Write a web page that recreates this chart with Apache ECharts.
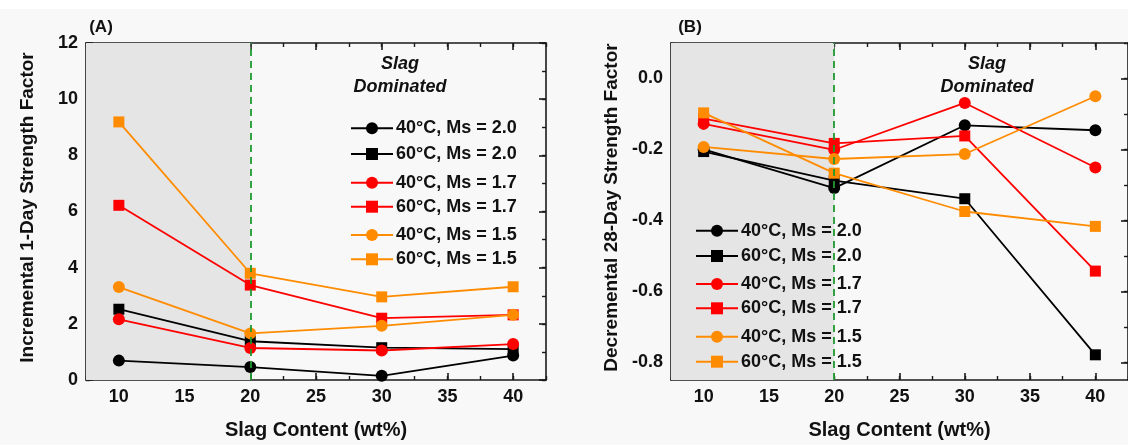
<!DOCTYPE html>
<html>
<head>
<meta charset="utf-8">
<script src="https://cdn.jsdelivr.net/npm/echarts@6/dist/echarts.min.js"></script>
<style>
html,body{margin:0;padding:0;background:#f8f8f8;}
#c{width:1128px;height:445px;}
</style>
</head>
<body>
<div id="c"></div>
<script>
// ---------- data ----------
var slag = [10, 20, 30, 40];
var seriesNames = ['40°C, Ms = 2.0','60°C, Ms = 2.0','40°C, Ms = 1.7','60°C, Ms = 1.7','40°C, Ms = 1.5','60°C, Ms = 1.5'];
var seriesColors = ['#000000','#000000','#ff0000','#ff0000','#ff8c00','#ff8c00'];
var seriesSymbols = ['circle','rect','circle','rect','circle','rect'];

// Panel A: incremental 1-day strength factor
var a_40_20 = [0.69, 0.46, 0.15, 0.87];
var a_60_20 = [2.52, 1.38, 1.15, 1.10];
var a_40_17 = [2.16, 1.14, 1.05, 1.28];
var a_60_17 = [6.22, 3.38, 2.20, 2.32];
var a_40_15 = [3.31, 1.66, 1.93, 2.32];
var a_60_15 = [9.19, 3.80, 2.96, 3.32];

// Panel B: decremental 28-day strength factor
var b_40_20 = [-0.200, -0.309, -0.132, -0.146];
var b_60_20 = [-0.206, -0.288, -0.339, -0.779];
var b_40_17 = [-0.128, -0.201, -0.069, -0.251];
var b_60_17 = [-0.113, -0.183, -0.162, -0.543];
var b_40_15 = [-0.193, -0.227, -0.213, -0.050];
var b_60_15 = [-0.097, -0.267, -0.375, -0.417];

var xMajor = [10, 15, 20, 25, 30, 35, 40];
var xMinor = [7.5, 10, 12.5, 15, 17.5, 20, 22.5, 25, 27.5, 30, 32.5, 35, 37.5, 40, 42.5];
var yMajorA = [0, 2, 4, 6, 8, 10, 12];
var yMinorA = [0, 1, 2, 3, 4, 5, 6, 7, 8, 9, 10, 11, 12];
var yMajorB = [-0.8, -0.6, -0.4, -0.2, 0.0];
var yMinorB = [-0.8, -0.7, -0.6, -0.5, -0.4, -0.3, -0.2, -0.1, 0.0, 0.1];

var panelA = [a_40_20, a_60_20, a_40_17, a_60_17, a_40_15, a_60_15];
var panelB = [b_40_20, b_60_20, b_40_17, b_60_17, b_40_15, b_60_15];

// ---------- build ----------
var FONT = 'Liberation Sans, Arial, sans-serif';
var AXC = '#1a1a1a';

function xAxes(g) {
  var base = {gridIndex: g, type: 'value', min: 7.5, max: 42.5, splitLine: {show: false}};
  return [
    Object.assign({}, base, {position: 'bottom',
      axisLine: {show: true, onZero: false, lineStyle: {color: AXC, width: 1.6}},
      axisTick: {show: true, inside: true, length: 7, customValues: xMajor, lineStyle: {color: AXC, width: 1.6}},
      axisLabel: {show: true, customValues: xMajor, margin: 8, color: '#111', fontFamily: FONT, fontWeight: 'bold', fontSize: 18,
        formatter: function (v) { return String(v); }},
      name: 'Slag Content (wt%)', nameLocation: 'middle', nameGap: 40,
      nameTextStyle: {color: '#111', fontFamily: FONT, fontWeight: 'bold', fontSize: 20}}),
    Object.assign({}, base, {position: 'bottom',
      axisLine: {show: false, onZero: false},
      axisTick: {show: true, inside: true, length: 4, customValues: xMinor, lineStyle: {color: AXC, width: 1.4}},
      axisLabel: {show: false}}),
    Object.assign({}, base, {position: 'top',
      axisLine: {show: true, onZero: false, lineStyle: {color: AXC, width: 1.6}},
      axisTick: {show: true, inside: true, length: 7, customValues: xMajor, lineStyle: {color: AXC, width: 1.6}},
      axisLabel: {show: false}}),
    Object.assign({}, base, {position: 'top',
      axisLine: {show: false, onZero: false},
      axisTick: {show: true, inside: true, length: 4, customValues: xMinor, lineStyle: {color: AXC, width: 1.4}},
      axisLabel: {show: false}})
  ];
}

function yAxes(g, min, max, major, minor, name, fmt, gap) {
  var base = {gridIndex: g, type: 'value', min: min, max: max, splitLine: {show: false}};
  return [
    Object.assign({}, base, {position: 'left',
      axisLine: {show: true, onZero: false, lineStyle: {color: AXC, width: 1.6}},
      axisTick: {show: true, inside: true, length: 7, customValues: major, lineStyle: {color: AXC, width: 1.6}},
      axisLabel: {show: true, customValues: major, margin: 8, color: '#111', fontFamily: FONT, fontWeight: 'bold', fontSize: 18,
        formatter: fmt},
      name: name, nameLocation: 'middle', nameGap: gap, nameRotate: 90,
      nameTextStyle: {color: '#111', fontFamily: FONT, fontWeight: 'bold', fontSize: 19, padding: [0, 0, 0, 8]}}),
    Object.assign({}, base, {position: 'left',
      axisLine: {show: false, onZero: false},
      axisTick: {show: true, inside: true, length: 4, customValues: minor, lineStyle: {color: AXC, width: 1.4}},
      axisLabel: {show: false}}),
    Object.assign({}, base, {position: 'right',
      axisLine: {show: true, onZero: false, lineStyle: {color: AXC, width: 1.6}},
      axisTick: {show: true, inside: true, length: 7, customValues: major, lineStyle: {color: AXC, width: 1.6}},
      axisLabel: {show: false}}),
    Object.assign({}, base, {position: 'right',
      axisLine: {show: false, onZero: false},
      axisTick: {show: true, inside: true, length: 4, customValues: minor, lineStyle: {color: AXC, width: 1.4}},
      axisLabel: {show: false}})
  ];
}

var xAxis = xAxes(0).concat(xAxes(1));
var yAxis = yAxes(0, 0, 12, yMajorA, yMinorA, 'Incremental 1-Day Strength Factor', function (v) { return String(Math.round(v)); }, 49)
  .concat(yAxes(1, -0.85, 0.1, yMajorB, yMinorB, 'Decremental 28-Day Strength Factor', function (v) { return (Math.abs(v) < 1e-9 ? 0 : v).toFixed(1); }, 50));

var series = [];
[0, 1].forEach(function (g) {
  series.push({
    type: 'line', xAxisIndex: g * 4, yAxisIndex: g * 4, data: [], z: 0, silent: true,
    markArea: {silent: true, itemStyle: {color: '#e5e5e5'}, data: [[{xAxis: 7.5}, {xAxis: 20}]]},
    markLine: {silent: true, symbol: ['none', 'none'], label: {show: false},
      lineStyle: {color: '#1f9a2f', type: [7, 5], width: 1.8}, data: [{xAxis: 20}]}
  });
  var vals = g === 0 ? panelA : panelB;
  for (var i = 0; i < 6; i++) {
    series.push({
      name: seriesNames[i], type: 'line', xAxisIndex: g * 4, yAxisIndex: g * 4, z: 3,
      data: slag.map(function (x, k) { return [x, vals[i][k]]; }),
      symbol: seriesSymbols[i], symbolSize: seriesSymbols[i] === 'rect' ? 11 : 12,
      lineStyle: {color: seriesColors[i], width: 1.8},
      itemStyle: {color: seriesColors[i]}
    });
  }
});

// legends: one per entry for precise stacking
var legA = [128.3, 154, 182.7, 206.7, 235, 259.3];
var legB = [230.7, 256, 284, 308.3, 336.7, 361.7];
var legend = [];
seriesNames.forEach(function (n, i) {
  [[350, legA[i]], [695, legB[i]]].forEach(function (p) {
    legend.push({
      data: [n], left: p[0], top: p[1] - 10, padding: 0, orient: 'vertical',
      itemWidth: 42, itemHeight: 15, itemGap: 0, selectedMode: false,
      textStyle: {color: '#111', fontFamily: FONT, fontWeight: 'bold', fontSize: 18, lineHeight: 20, padding: [0, 0, 0, -2]}
    });
  });
});

function t(x, y, s, font) {
  return {type: 'text', x: x, y: y, silent: true, style: {text: s, fill: '#111', font: font, align: 'center', verticalAlign: 'middle'}};
}
var ANN = 'italic bold 18px ' + FONT;

var option = {
  backgroundColor: '#f8f8f8',
  animation: false,
  grid: [
    {left: 86, right: 582, top: 43, bottom: 62},
    {left: 671, right: -4, top: 43, bottom: 62}
  ],
  xAxis: xAxis,
  yAxis: yAxis,
  legend: legend,
  series: series,
  graphic: [
    {type: 'rect', left: 0, top: 0, shape: {width: 1128, height: 9}, style: {fill: '#ffffff'}, silent: true},
    t(101, 27, '(A)', 'bold 17px ' + FONT),
    t(690, 27, '(B)', 'bold 17px ' + FONT),
    t(169, 63, 'Fly Ash', ANN),
    t(169, 86, 'Dominated', ANN),
    t(400, 64, 'Slag', ANN),
    t(400, 87, 'Dominated', ANN),
    t(753, 63, 'Fly Ash', ANN),
    t(753, 86, 'Dominated', ANN),
    t(987, 64, 'Slag', ANN),
    t(987, 87, 'Dominated', ANN)
  ]
};

var chart = echarts.init(document.getElementById('c'), null, {renderer: 'canvas'});
chart.setOption(option);
</script>
</body>
</html>
